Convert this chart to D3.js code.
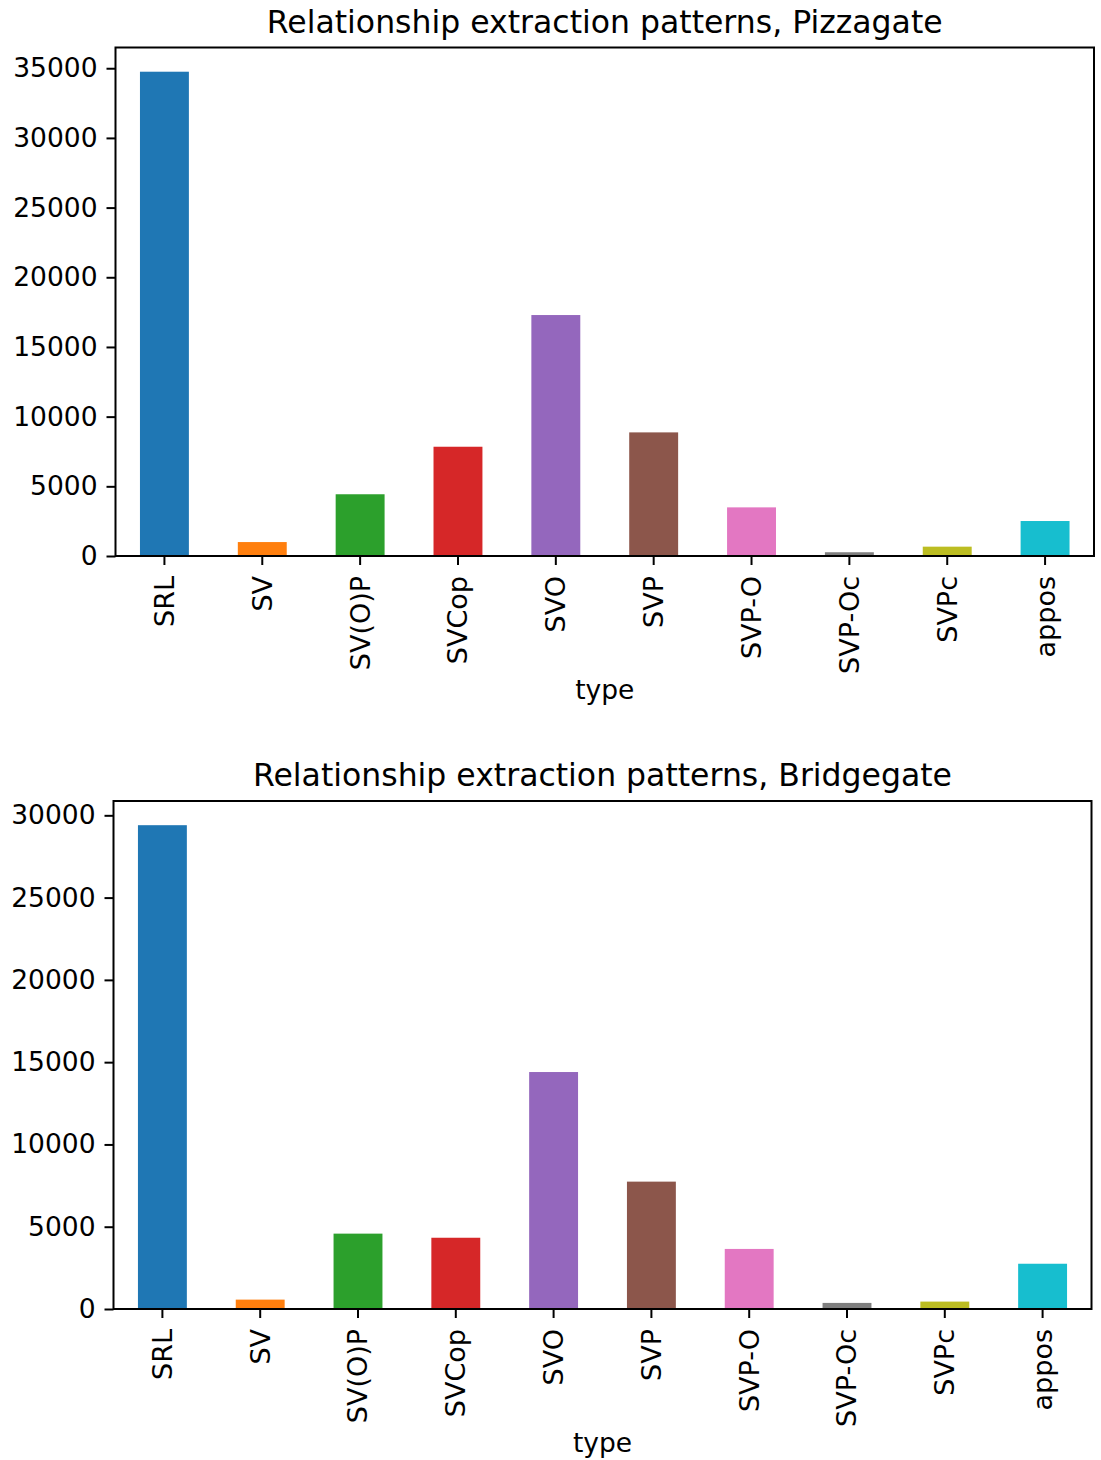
<!DOCTYPE html>
<html>
<head>
<meta charset="utf-8">
<script src="https://d3js.org/d3.v7.min.js"></script>
<style>
  body { margin: 0; background: #fff; }
  text { font-family: "DejaVu Sans", sans-serif; fill: #000; }
</style>
</head>
<body>
<div id="chart"></div>
<script>
// categories and values
var types = ["SRL", "SV", "SV(O)P", "SVCop", "SVO", "SVP", "SVP-O", "SVP-Oc", "SVPc", "appos"];
var pizzagate = [34750, 1000, 4430, 7840, 17290, 8870, 3490, 270, 670, 2510];
var bridgegate = [29400, 570, 4580, 4330, 14400, 7740, 3650, 370, 450, 2750];
var pizzaTicks = [0, 5000, 10000, 15000, 20000, 25000, 30000, 35000];
var bridgeTicks = [0, 5000, 10000, 15000, 20000, 25000, 30000];
var colors = ["#1f77b4", "#ff7f0e", "#2ca02c", "#d62728", "#9467bd",
              "#8c564b", "#e377c2", "#7f7f7f", "#bcbd22", "#17becf"];

var svg = d3.select("#chart").append("svg")
  .attr("width", 1101)
  .attr("height", 1460);

function drawPanel(values, ticks, title, box) {
  var g = svg.append("g");

  var x = d3.scaleBand()
    .domain(types)
    .range([box.left, box.right])
    .paddingInner(0.5)
    .paddingOuter(0.25);

  var y = d3.scaleLinear()
    .domain([0, d3.max(values) * 1.05])
    .range([box.bottom, box.top]);

  // bars
  g.selectAll("rect.bar")
    .data(values)
    .enter()
    .append("rect")
      .attr("class", "bar")
      .attr("x", function(d, i) { return x(types[i]); })
      .attr("y", function(d) { return y(d); })
      .attr("width", x.bandwidth())
      .attr("height", function(d) { return y(0) - y(d); })
      .style("fill", function(d, i) { return colors[i]; });

  // y axis
  var yAxis = g.append("g")
    .attr("transform", "translate(" + box.left + ",0)")
    .call(d3.axisLeft(y).tickValues(ticks).tickFormat(d3.format("d")).tickSize(9).tickPadding(9));
  yAxis.selectAll("text").style("font-size", "26.5px");

  // x axis, labels turned on their side
  var xAxis = g.append("g")
    .attr("transform", "translate(0," + box.bottom + ")")
    .call(d3.axisBottom(x).tickSize(9).tickPadding(6));
  xAxis.selectAll("text")
    .style("font-size", "27px")
    .attr("transform", "rotate(-90)")
    .attr("text-anchor", "end")
    .attr("x", -20)
    .attr("y", 0)
    .attr("dy", "0.35em");

  g.selectAll(".domain").remove();
  g.selectAll(".tick line").attr("stroke", "#000").attr("stroke-width", 2);

  // frame
  g.append("rect")
    .attr("x", box.left)
    .attr("y", box.top)
    .attr("width", box.right - box.left)
    .attr("height", box.bottom - box.top)
    .attr("fill", "none")
    .attr("stroke", "#000")
    .attr("stroke-width", 2);

  g.append("text")
    .attr("x", (box.left + box.right) / 2)
    .attr("y", box.top - 15)
    .attr("text-anchor", "middle")
    .style("font-size", "31.5px")
    .text(title);

  g.append("text")
    .attr("x", (box.left + box.right) / 2)
    .attr("y", box.bottom + 143)
    .attr("text-anchor", "middle")
    .style("font-size", "26.5px")
    .text("type");
}

drawPanel(pizzagate, pizzaTicks, "Relationship extraction patterns, Pizzagate",
  {left: 115.5, right: 1094, top: 47.5, bottom: 556});
drawPanel(bridgegate, bridgeTicks, "Relationship extraction patterns, Bridgegate",
  {left: 113.5, right: 1091.5, top: 801, bottom: 1309});
</script>
</body>
</html>
